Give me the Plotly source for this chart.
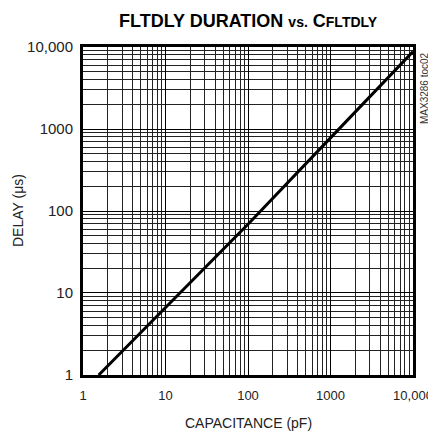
import plotly.graph_objects as go

capacitance_pf = [1.55, 100, 1000, 10000]
delay_us = [1.0, 69, 780, 8800]

x_tick_vals = [1, 10, 100, 1000, 10000]
x_tick_text = ["1", "10", "100", "1000", "10,000"]
y_tick_vals = [1, 10, 100, 1000, 10000]
y_tick_text = ["1", "10", "100", "1000", "10,000"]

FONT = "Liberation Sans, Arial, sans-serif"
TXT = "#222"

fig = go.Figure()
fig.add_trace(go.Scatter(x=capacitance_pf, y=delay_us, mode="lines",
                         line=dict(color="black", width=3), showlegend=False))

axis_common = dict(
    type="log", showline=True, linecolor="black", linewidth=3, mirror=True,
    showgrid=True, gridcolor="black", gridwidth=1, ticks="", zeroline=False,
    automargin=False,
    minor=dict(showgrid=True, gridcolor="#222", gridwidth=1, dtick="D1"),
)

fig.update_xaxes(range=[-0.0002, 4.0002], tickvals=x_tick_vals, ticktext=x_tick_text,
                 ticklabelstandoff=6, tickfont=dict(family=FONT, size=13, color=TXT),
                 **axis_common)
fig.update_yaxes(range=[-0.0002, 4.0002], tickvals=y_tick_vals, ticktext=y_tick_text,
                 ticklabelstandoff=4, tickfont=dict(family=FONT, size=15, color=TXT),
                 **axis_common)

# page body has an 8px margin, so the figure is drawn 8px smaller and offset
fig.update_layout(
    width=428, height=427,
    margin=dict(l=75, r=23, t=39, b=60),
    paper_bgcolor="white", plot_bgcolor="white",
)

# title
fig.add_annotation(
    text="<b>FLTDLY DURATION <span style='font-size:14px'>vs.</span> C<span style='font-size:14px'>FLTDLY</span></b>",
    xref="paper", yref="paper", x=0.5, y=1.0, xanchor="center", yanchor="middle",
    yshift=26, showarrow=False,
    font=dict(family="Liberation Sans, Arial, sans-serif", size=18, color="black"),
)
# axis titles
fig.add_annotation(text="CAPACITANCE (pF)", xref="paper", yref="paper",
                   x=0.5, y=0.0, xanchor="center", yanchor="middle", yshift=-48,
                   showarrow=False, font=dict(family=FONT, size=14, color=TXT))
fig.add_annotation(text="DELAY (μs)", xref="paper", yref="paper",
                   x=0.0, y=0.5, xanchor="center", yanchor="middle", xshift=-65,
                   textangle=-90, showarrow=False, font=dict(family=FONT, size=14, color=TXT))
# side label
fig.add_annotation(text="MAX3286 toc02", xref="paper", yref="paper",
                   x=1.0, y=0.875, xanchor="center", yanchor="middle", xshift=11,
                   textangle=-90, showarrow=False,
                   font=dict(family=FONT, size=10, color="#333"))

fig.write_html("out.html")
